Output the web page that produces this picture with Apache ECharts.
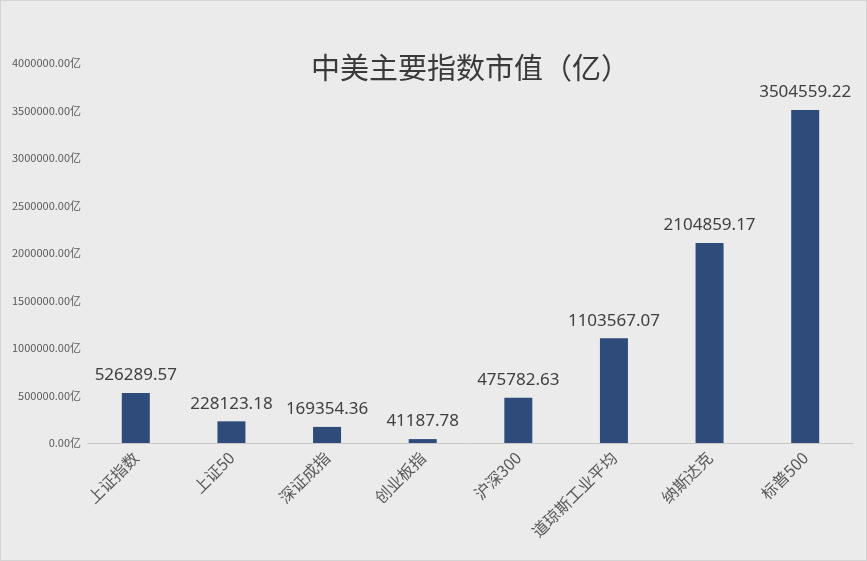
<!DOCTYPE html>
<html>
<head>
<meta charset="utf-8">
<script src="https://cdn.jsdelivr.net/npm/echarts@6/dist/echarts.min.js"></script>
<style>
    html, body { margin: 0; padding: 0; background: #ebebeb; }
    #main { width: 865px; height: 559px; border: 1px solid #d4d4d4; }
</style>
</head>
<body>
<div id="main"></div>
<script>
// 指数名称
let categories = ["上证指数", "上证50", "深证成指", "创业板指", "沪深300", "道琼斯工业平均", "纳斯达克", "标普500"]
// 市值（亿）
let values = [526289.57, 228123.18, 169354.36, 41187.78, 475782.63, 1103567.07, 2104859.17, 3504559.22]

;(function () {
    let myChart = echarts.init(document.getElementById('main'))
    let option = {
        backgroundColor: '#ebebeb',
        title: {
            text: '中美主要指数市值（亿）',
            left: 305,
            top: 47,
            textStyle: {
                fontFamily: 'Noto Sans CJK SC',
                fontSize: 29,
                fontWeight: 'normal',
                color: '#3a3a3a'
            }
        },
        grid: {
            left: 87,
            right: 13,
            top: 62,
            bottom: 117,
            containLabel: false
        },
        xAxis: {
            type: 'category',
            data: categories,
            axisTick: { show: false },
            axisLine: {
                lineStyle: { color: '#c8c8c8', width: 1 }
            },
            axisLabel: {
                rotate: 45,
                interval: 0,
                margin: 12,
                color: '#595959',
                fontSize: 16,
                fontFamily: 'Noto Sans CJK SC'
            }
        },
        yAxis: {
            type: 'value',
            min: 0,
            max: 4000000,
            interval: 500000,
            axisLine: { show: false },
            axisTick: { show: false },
            splitLine: { show: false },
            axisLabel: {
                color: '#595959',
                fontSize: 11,
                margin: 7,
                fontFamily: 'Noto Sans CJK SC',
                formatter: function (v) {
                    return v.toFixed(2) + '亿'
                }
            }
        },
        series: [
            {
                type: 'bar',
                data: values,
                barWidth: 28,
                itemStyle: { color: '#2e4b7a' },
                label: {
                    show: true,
                    position: 'top',
                    distance: 9,
                    color: '#404040',
                    fontSize: 17,
                    fontFamily: 'Noto Sans',
                    formatter: function (p) {
                        return p.value.toFixed(2)
                    }
                }
            }
        ]
    }
    myChart.setOption(option)
})()
</script>
</body>
</html>
